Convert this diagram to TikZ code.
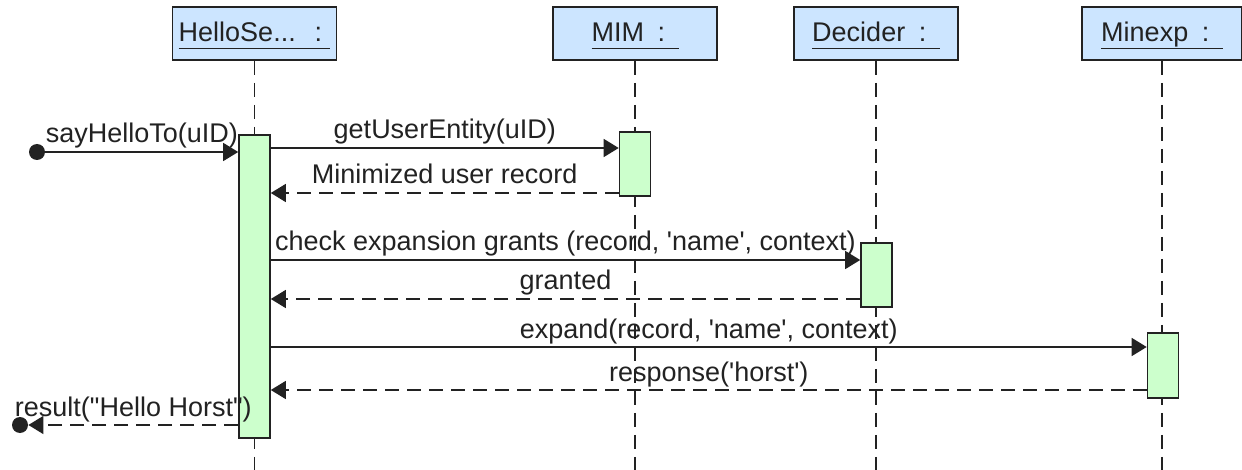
\documentclass[tikz,border=0pt]{standalone}
\usepackage{fontspec}
\setmainfont{Liberation Sans}
\usetikzlibrary{arrows.meta}
\definecolor{headfill}{RGB}{204,229,255}
\definecolor{actfill}{RGB}{204,255,204}
\definecolor{ink}{RGB}{34,34,34}
% underline at a fixed depth, independent of descenders
\newcommand\hdul[1]{\setbox0\hbox{#1}\rlap{\usebox0}\rule[-3.6pt]{\wd0}{0.7pt}}

\begin{document}
\begin{tikzpicture}[x=0.5pt,y=-0.5pt,
  every node/.style={font=\fontsize{13.5}{16}\selectfont, text=ink},
  head/.style={draw=ink, line width=0.9pt, fill=headfill, minimum width=82pt,
    minimum height=26.5pt, inner sep=0pt, text height=9.5pt, text depth=1pt},
  act/.style={draw=ink, line width=0.8pt, fill=actfill, minimum width=15.5pt, inner sep=0pt},
  lifeline/.style={draw=ink, line width=0.8pt, dash pattern=on 7pt off 4pt},
  call/.style={draw=ink, line width=0.7pt, -{Triangle[length=7.5pt,width=9pt]}},
  reply/.style={call, dash pattern=on 7pt off 4pt},
  msg/.style={anchor=base, yshift=4.5pt, inner sep=0pt},
  endpoint/.style={circle, fill=ink, draw=none, minimum size=8pt, inner sep=0pt}]

  \fill[white] (0,0) rectangle (1242,470);
  \useasboundingbox (0,0) rectangle (1242,470);

  % participants
  \node[head] (hH) at (254.5,33.5) {\hdul{HelloSe...\hspace{0.7em}:\hspace{0.3em}}};
  \node[head] (hM) at (635,33.5) {\hdul{MIM\hspace{0.5em}:\hspace{0.5em}}};
  \node[head] (hD) at (876,33.5) {\hdul{Decider\hspace{0.5em}:\hspace{0.5em}}};
  \node[head, minimum width=80pt] (hX) at (1162,33.5) {\hdul{Minexp\hspace{0.5em}:\hspace{0.5em}}};

  % lifelines
  \coordinate (eH) at (254.5,470);
  \coordinate (eM) at (635,470);
  \coordinate (eD) at (876,470);
  \coordinate (eX) at (1162,470);
  \draw[lifeline] (hH.south) -- (eH);
  \draw[lifeline] (hM.south) -- (eM);
  \draw[lifeline] (hD.south) -- (eD);
  \draw[lifeline] (hX.south) -- (eX);

  % activation bars
  \node[act, minimum height=151.5pt] (aH) at (254.5,286.5) {};
  \node[act, minimum height=32pt] (aM) at (635,164) {};
  \node[act, minimum height=32pt] (aD) at (876.5,275) {};
  \node[act, minimum height=32.5pt] (aX) at (1163,365.5) {};

  % found / lost message ends
  \node[endpoint] (s0) at (37,152) {};
  \node[endpoint] (r0) at (20,425) {};

  % messages
  \draw[call] (s0) -- (aH.west |- 0,152) node[msg, midway] {sayHelloTo(uID)};
  \draw[call] (aH.east |- 0,148) -- (aM.west |- 0,148) node[msg, midway] {getUserEntity(uID)};
  \draw[reply] (aM.west |- 0,193) -- (aH.east |- 0,193) node[msg, midway] {Minimized user record};
  \draw[call] (aH.east |- 0,260) -- (aD.west |- 0,260) node[msg, midway]
    {check expansion grants (record, \textquotesingle name\textquotesingle, context)};
  \draw[reply] (aD.west |- 0,299) -- (aH.east |- 0,299) node[msg, midway] {granted};
  \draw[call] (aH.east |- 0,347) -- (aX.west |- 0,347) node[msg, midway]
    {expand(record, \textquotesingle name\textquotesingle, context)};
  \draw[reply] (aX.west |- 0,390) -- (aH.east |- 0,390) node[msg, midway]
    {response(\textquotesingle horst\textquotesingle)};
  \draw[reply] (aH.west |- 0,425) -- (r0) node[msg, midway]
    {result(\textquotedbl Hello Horst\textquotedbl)};
\end{tikzpicture}
\end{document}
